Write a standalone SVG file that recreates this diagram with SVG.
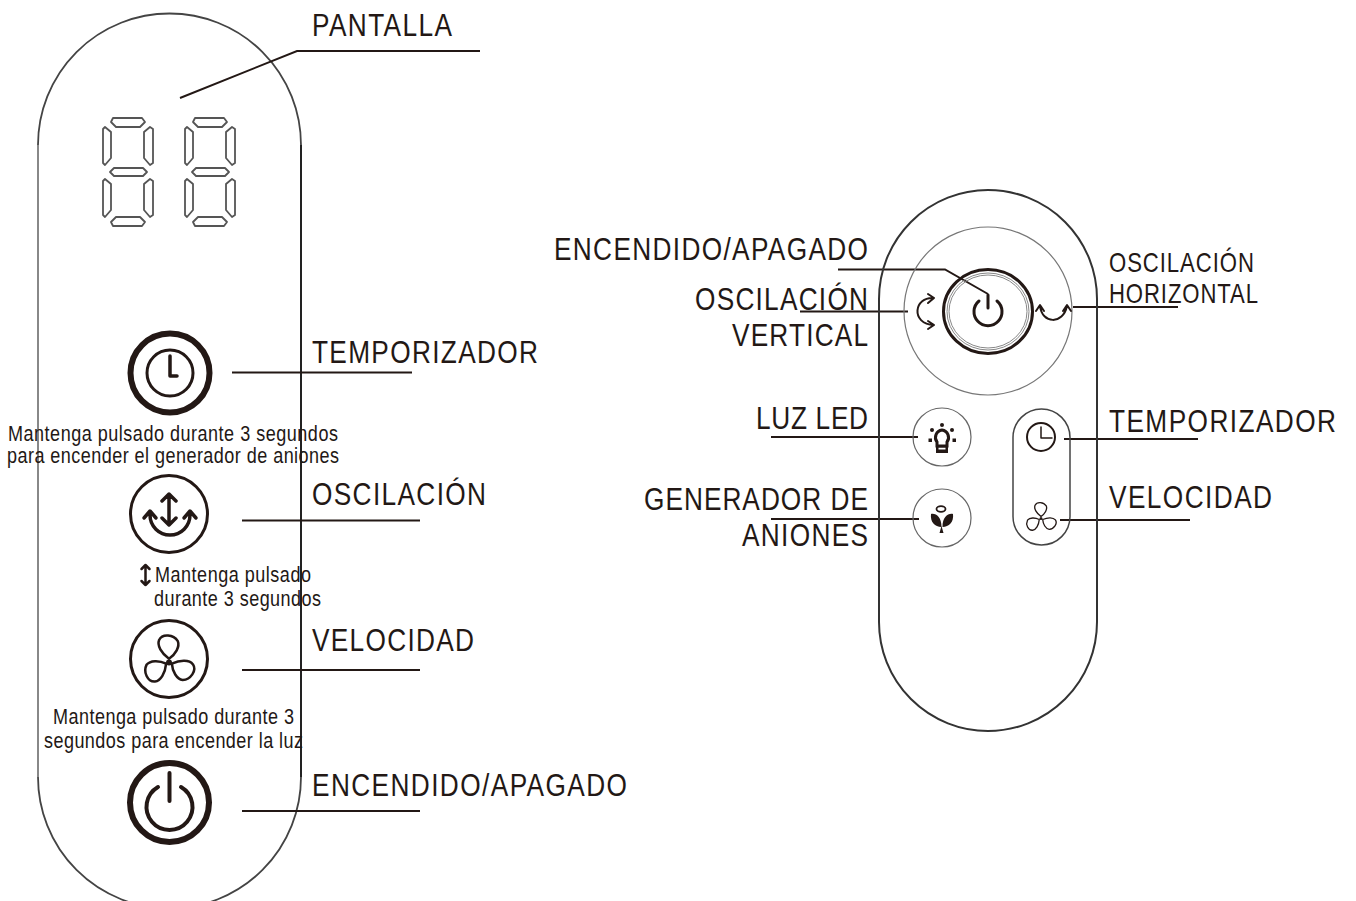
<svg xmlns="http://www.w3.org/2000/svg" width="1356" height="901" viewBox="0 0 1356 901">
<style>
text{font-family:"Liberation Sans",Arial,sans-serif;fill:#231815}
.lg{font-size:32px}
.md{font-size:27px}
.sm{font-size:22px}
.ld{fill:none;stroke:#231815;stroke-width:2}
.k{fill:none;stroke:#231815;stroke-linecap:round;stroke-linejoin:round}
.seg{fill:none;stroke:#555;stroke-width:1.800;stroke-linejoin:round}
</style>
<defs>
<g id="digit">
<path class="seg" d="M113 118H142L145 122L140 127H116L111 122Z"/>
<path class="seg" d="M105 127L111 132V158L105 165L103 163V129Z"/>
<path class="seg" d="M150 127L144 132V158L150 165L153 163V129Z"/>
<path class="seg" d="M114 168H143L147 172L143 176H114L110 172Z"/>
<path class="seg" d="M105 179L111 184V210L105 217L103 215V181Z"/>
<path class="seg" d="M150 179L144 184V210L150 217L153 215V181Z"/>
<path class="seg" d="M116 217H140L145 222L142 226H113L111 222Z"/>
</g>
<g id="fan">
<path id="blade" d="M0 -3C-7 -8 -11 -15 -9 -20C-6 -26 4 -25 8 -19C10 -14 6 -7 0 -3Z"/>
<use href="#blade" transform="rotate(120)"/>
<use href="#blade" transform="rotate(240)"/>
</g>
</defs>

<g id="panel-left">
<path d="M38 145A131.500 131.500 0 0 1 301 145" fill="none" stroke="#444" stroke-width="1.800"/>
<path d="M38 145V777" fill="none" stroke="#888" stroke-width="2"/>
<path d="M301 145V777" fill="none" stroke="#222" stroke-width="2"/>
<path d="M38 777A131.500 131.500 0 0 0 301 777" fill="none" stroke="#444" stroke-width="1.800"/>
</g>

<g id="display">
<use href="#digit"/>
<use href="#digit" x="82"/>
</g>

<g id="connectors">
<path class="ld" d="M180 98L297 51H480"/>
<path class="ld" d="M232 372.500H412"/>
<path class="ld" d="M242 520.500H420"/>
<path class="ld" d="M242 670H420"/>
<path class="ld" d="M242 811H420"/>
<path class="ld" d="M838 269.500H945L988 294"/>
<path class="ld" d="M800 311.500H908"/>
<path class="ld" d="M771 437H918"/>
<path class="ld" d="M771 519H919"/>
<path class="ld" d="M1073 307H1178"/>
<path class="ld" d="M1064 439H1198"/>
<path class="ld" d="M1060 520H1190"/>
</g>

<g id="btn-timer-left">
<circle class="k" cx="170" cy="373" r="39.500" stroke-width="6"/>
<circle class="k" cx="170" cy="373" r="23" stroke-width="3"/>
<path class="k" stroke-width="3.500" d="M170 356V376H177"/>
</g>
<g id="btn-swing-left">
<circle class="k" cx="169" cy="514" r="38.500" stroke-width="3"/>
<path class="k" stroke-width="3.500" d="M169 494V525M162 501L169 494L176 501M162 518L169 525L176 518"/>
<path class="k" stroke-width="3.500" d="M150 512V515A20 20 0 0 0 190 515V512M144 518L150 511L156 518M184 518L190 511L196 518"/>
</g>
<g id="btn-fan-left">
<circle class="k" cx="169" cy="659" r="38.500" stroke-width="3"/>
<use href="#fan" transform="translate(169 662) scale(1.100)" class="k" stroke-width="2.300"/>
<circle cx="169" cy="662.500" r="3" fill="#231815"/>
</g>
<g id="btn-power-left">
<circle class="k" cx="169.500" cy="802.500" r="39.500" stroke-width="6"/>
<path class="k" stroke-width="4" d="M158 787A23 23 0 1 0 181 787"/>
<path class="k" stroke-width="4" d="M169.500 773V801"/>
</g>
<g id="small-arrow">
<path class="k" stroke-width="2.500" d="M145.500 565V585M141.500 569L145.500 565L149.500 569M141.500 581L145.500 585L149.500 581"/>
</g>

<g id="panel-right">
<rect x="879" y="190" width="218" height="541" rx="109" fill="none" stroke="#333" stroke-width="2"/>
</g>
<g id="btn-ring">
<circle cx="988" cy="311" r="84" fill="none" stroke="#777" stroke-width="1.200"/>
</g>
<g id="btn-power-right">
<ellipse class="k" cx="988" cy="311.500" rx="44.500" ry="42" stroke-width="3"/>
<ellipse cx="988" cy="311.500" rx="41" ry="38.500" fill="none" stroke="#888" stroke-width="1"/>
<ellipse cx="988" cy="311.500" rx="39" ry="36.500" fill="none" stroke="#888" stroke-width="1"/>
<path class="k" stroke-width="3" d="M979 301A14 14 0 1 0 997 301"/>
<path class="k" stroke-width="3" d="M988 295V308"/>
</g>
<g id="swing-vertical">
<path class="k" stroke-width="2" d="M934 298C914 296 910 324 934 325M928 294L934 298L928 303M928 321L934 325L928 329"/>
</g>
<g id="swing-horizontal">
<path class="k" stroke-width="2" d="M1040 306C1042 324 1063 325 1067 306M1036 311L1040 305L1044 311M1063 311L1067 305L1071 311"/>
</g>
<g id="btn-light">
<circle cx="942" cy="437" r="29" fill="none" stroke="#666" stroke-width="1.200"/>
<path d="M942 430A7.500 7.500 0 0 0 937 442V446H947V442A7.500 7.500 0 0 0 942 430Z" fill="none" stroke="#231815" stroke-width="3"/>
<path d="M936 445H948V453H936ZM938.500 447.500V449.500H945.500V447.500Z" fill="#231815" fill-rule="evenodd"/>
<circle cx="942" cy="425" r="2" fill="#231815"/>
<circle cx="932" cy="430" r="2" fill="#231815"/>
<circle cx="952" cy="430" r="2" fill="#231815"/>
<rect x="928.500" y="438.500" width="3.500" height="3.500" fill="#231815"/>
<rect x="952.500" y="438.500" width="3.500" height="3.500" fill="#231815"/>
</g>
<g id="btn-anion">
<circle cx="942" cy="518" r="29" fill="none" stroke="#666" stroke-width="1.200"/>
<ellipse cx="941" cy="509" rx="4.500" ry="2.800" fill="none" stroke="#231815" stroke-width="1.800"/>
<path d="M931 514C936 513 941.500 517 941.500 527C935 527 930 522 931 514ZM953 514C948 513 942.500 517 942.500 527C949 527 954 522 953 514ZM941.500 526L943.500 533H939.500Z" fill="#231815"/>
</g>
<g id="btn-pill">
<rect x="1013" y="409" width="57" height="136" rx="28.500" fill="none" stroke="#444" stroke-width="1.500"/>
<circle class="k" cx="1041" cy="437" r="14" stroke-width="2"/>
<path class="k" stroke-width="1.500" d="M1041 427V438H1052"/>
<use href="#fan" transform="translate(1041 518.500) scale(.66)" class="k" stroke-width="2"/>
<circle cx="1041" cy="518.500" r="1.500" fill="#231815"/>
</g>

<g id="labels">
<text class="lg" transform="translate(312 36) scale(.82 1)" textLength="170.700">PANTALLA</text>
<text class="lg" transform="translate(312 363) scale(.82 1)" textLength="275.600">TEMPORIZADOR</text>
<text class="lg" transform="translate(312 505) scale(.82 1)" textLength="212.200">OSCILACIÓN</text>
<text class="lg" transform="translate(312 651) scale(.82 1)" textLength="197.600">VELOCIDAD</text>
<text class="lg" transform="translate(312 796) scale(.82 1)" textLength="384.100">ENCENDIDO/APAGADO</text>
<text class="sm" transform="translate(8 441) scale(.82 1)" textLength="402.400">Mantenga pulsado durante 3 segundos</text>
<text class="sm" transform="translate(7 463) scale(.82 1)" textLength="404.900">para encender el generador de aniones</text>
<text class="sm" transform="translate(155 582) scale(.82 1)" textLength="190.200">Mantenga pulsado</text>
<text class="sm" transform="translate(154 606) scale(.82 1)" textLength="203.700">durante 3 segundos</text>
<text class="sm" transform="translate(53 724) scale(.82 1)" textLength="293.900">Mantenga pulsado durante 3</text>
<text class="sm" transform="translate(44 748) scale(.82 1)" textLength="315.900">segundos para encender la luz</text>
<text class="lg" transform="translate(554 260) scale(.82 1)" textLength="382.900">ENCENDIDO/APAGADO</text>
<text class="lg" transform="translate(695 310) scale(.82 1)" textLength="211">OSCILACIÓN</text>
<text class="lg" transform="translate(732 346) scale(.82 1)" textLength="165.900">VERTICAL</text>
<text class="lg" transform="translate(756 429) scale(.82 1)" textLength="136.600">LUZ LED</text>
<text class="lg" transform="translate(644 510) scale(.82 1)" textLength="273.200">GENERADOR DE</text>
<text class="lg" transform="translate(742 546) scale(.82 1)" textLength="153.700">ANIONES</text>
<text class="md" transform="translate(1109 272) scale(.82 1)" textLength="176.800">OSCILACIÓN</text>
<text class="md" transform="translate(1109 303) scale(.82 1)" textLength="181.700">HORIZONTAL</text>
<text class="lg" transform="translate(1109 432) scale(.82 1)" textLength="276.800">TEMPORIZADOR</text>
<text class="lg" transform="translate(1109 508) scale(.82 1)" textLength="198.800">VELOCIDAD</text>
</g>
</svg>
